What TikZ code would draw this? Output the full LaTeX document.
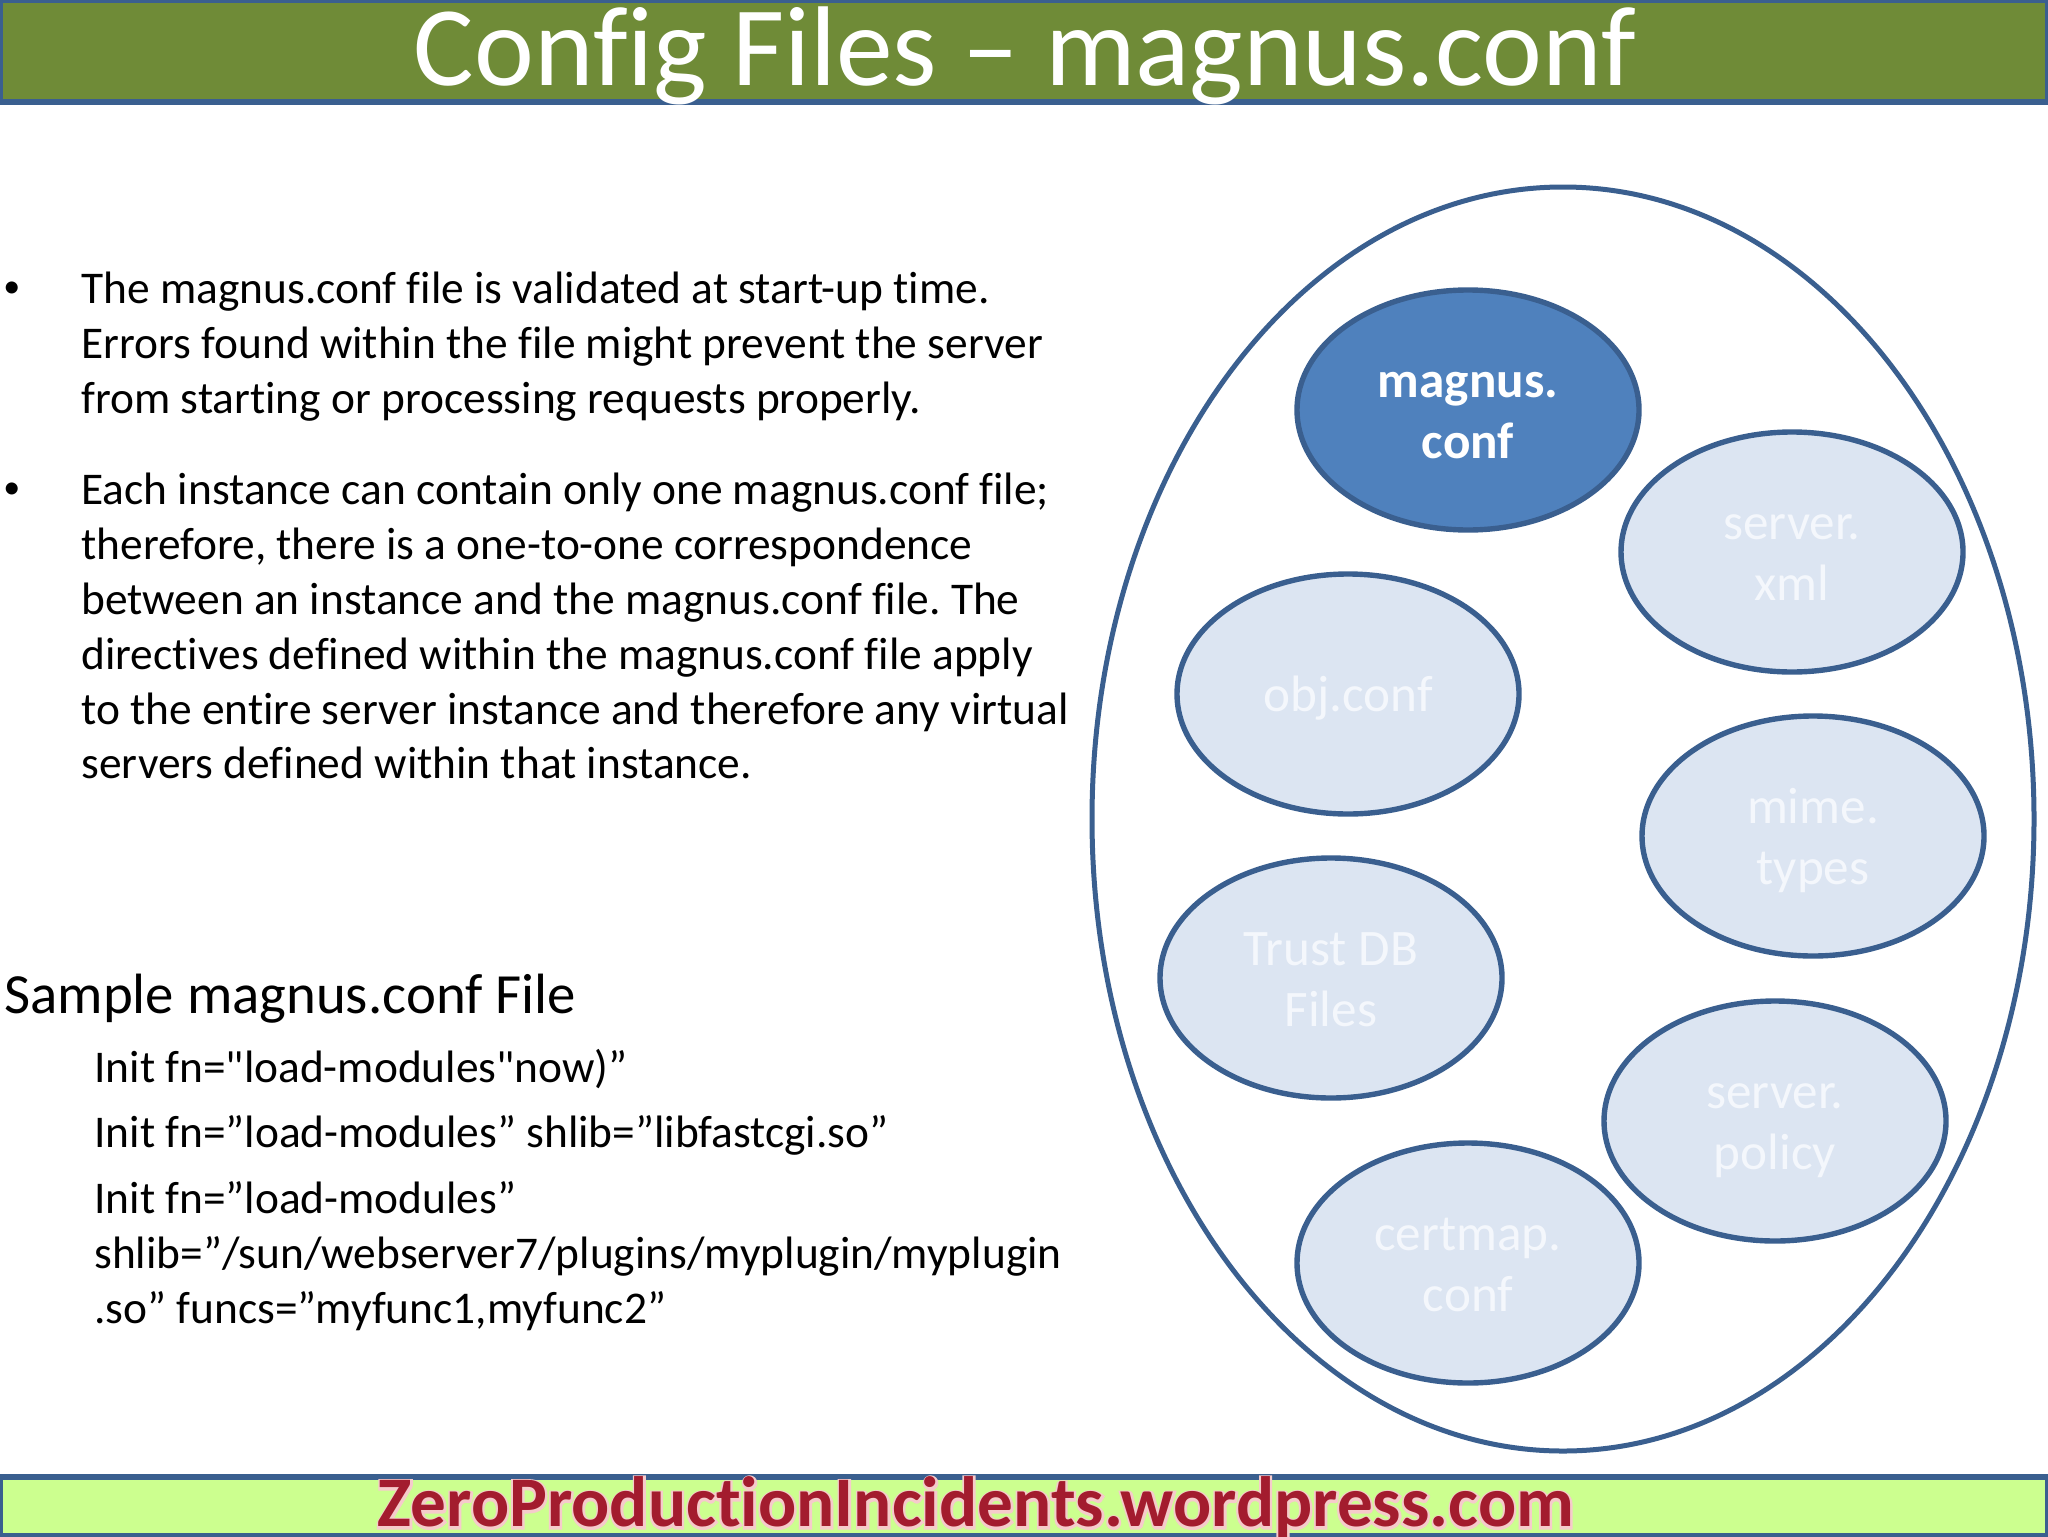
\documentclass[tikz,border=0pt]{standalone}
\usepackage{fontspec}
\usetikzlibrary{shapes.geometric}
\newfontfamily\slidefont[Ligatures=NoCommon]{Carlito}
\newfontfamily\footerhalo[FakeBold=6,Ligatures=NoCommon]{Carlito Bold}
\newfontfamily\footercore[Ligatures=NoCommon]{Carlito Bold}
\definecolor{barblue}{HTML}{3A5F8F}
\definecolor{titlegreen}{HTML}{6F8B37}
\definecolor{footgreen}{HTML}{CCFF8F}
\definecolor{pale}{HTML}{DCE5F2}
\definecolor{paletext}{HTML}{F4F7FC}
\definecolor{dark}{HTML}{4F81BD}
\definecolor{footred}{HTML}{A31C2E}
\definecolor{foothalo}{HTML}{F6CBCB}
\tikzset{
	bar/.style={draw=barblue,line width=3pt,inner sep=0pt,outer sep=0pt,minimum width=1024pt},
	bodytext/.style={inner sep=0pt,anchor=north west,align=left,font=\fontsize{22.7}{27.4}\slidefont},
	dotmark/.style={inner sep=0pt,anchor=north west,font=\fontsize{17}{27.4}\slidefont},
	filenode/.style={ellipse,draw=barblue,line width=2.7pt,inner sep=0pt,minimum width=171pt,minimum height=120pt},
	filelabel/.style={inner sep=0pt,align=center,yshift=-2.8pt},
}
\begin{document}
\frenchspacing
\begin{tikzpicture}[x=0.5pt,y=-0.5pt]
	\useasboundingbox (0,0) rectangle (2048,1536);
	% Title and footer bars
	\node[bar,fill=titlegreen,minimum height=51pt,anchor=north west] (titlebar) at (0,0) {};
	\node[text=white,font=\fontsize{56.7}{60}\slidefont,inner sep=0pt] (title) at (1025,56) {Config Files – magnus.conf};
	\node[bar,fill=footgreen,minimum height=29.5pt,anchor=south west] (footbar) at (0,1536) {};
	\node[text=foothalo,font=\fontsize{35.6}{36}\footerhalo,inner sep=0pt] (footback) at (976,1508) {ZeroProductionIncidents.wordpress.com};
	\node[text=footred,font=\fontsize{35.6}{36}\footercore,inner sep=0pt] (foot) at (976,1507) {ZeroProductionIncidents.wordpress.com};
	% Left column
	\node[dotmark] (dotone) at (3,282) {•};
	\node[bodytext] (first) at (81,272) {The magnus.conf file is validated at start-up time.\\Errors found within the file might prevent the server\\from starting or processing requests properly.};
	\node[dotmark] (dottwo) at (3,483) {•};
	\node[bodytext] (second) at (81,473) {Each instance can contain only one magnus.conf file;\\therefore, there is a one-to-one correspondence\\between an instance and the magnus.conf file. The\\directives defined within the magnus.conf file apply\\to the entire server instance and therefore any virtual\\servers defined within that instance.};
	\node[bodytext,font=\fontsize{28.4}{32}\slidefont] (sample) at (4,974) {Sample magnus.conf File};
	\node[bodytext] (lineone) at (94,1049) {Init fn="load-modules"now)”};
	\node[bodytext] (linetwo) at (94,1115) {Init fn=”load-modules” shlib=”libfastcgi.so”};
	\node[bodytext] (linethree) at (94,1181) {Init fn=”load-modules”\\shlib=”/sun/webserver7/plugins/myplugin/myplugin\\.so” funcs=”myfunc1,myfunc2”};
	% Ellipses
	\node[ellipse,draw=barblue,line width=2.5pt,minimum width=471pt,minimum height=632pt,inner sep=0pt] (outer) at (1563,819) {};
	\node[filenode,fill=dark] (magnus) at (1468,410) {};
	\node[filelabel,text=white,font=\fontsize{25.6}{30.6}\slidefont\bfseries] (magnuslabel) at (magnus) {\strut magnus.\\\strut conf};
	\foreach \pos/\name/\label in {{(1792,552)/xml/\strut server.\\\strut xml}, {(1348,694)/obj/\strut obj.conf},
			{(1813,836)/mime/\strut mime.\\\strut types}, {(1331,978)/trust/\strut Trust DB\\\strut Files},
			{(1775,1121)/policy/\strut server.\\\strut policy}, {(1468,1263)/certmap/\strut certmap.\\\strut conf}} {
		\node[filenode,fill=pale] (\name) at \pos {};
		\node[filelabel,text=paletext,font=\fontsize{25.6}{30.6}\slidefont] (\name label) at (\name) {\label};
	}
\end{tikzpicture}
\end{document}
